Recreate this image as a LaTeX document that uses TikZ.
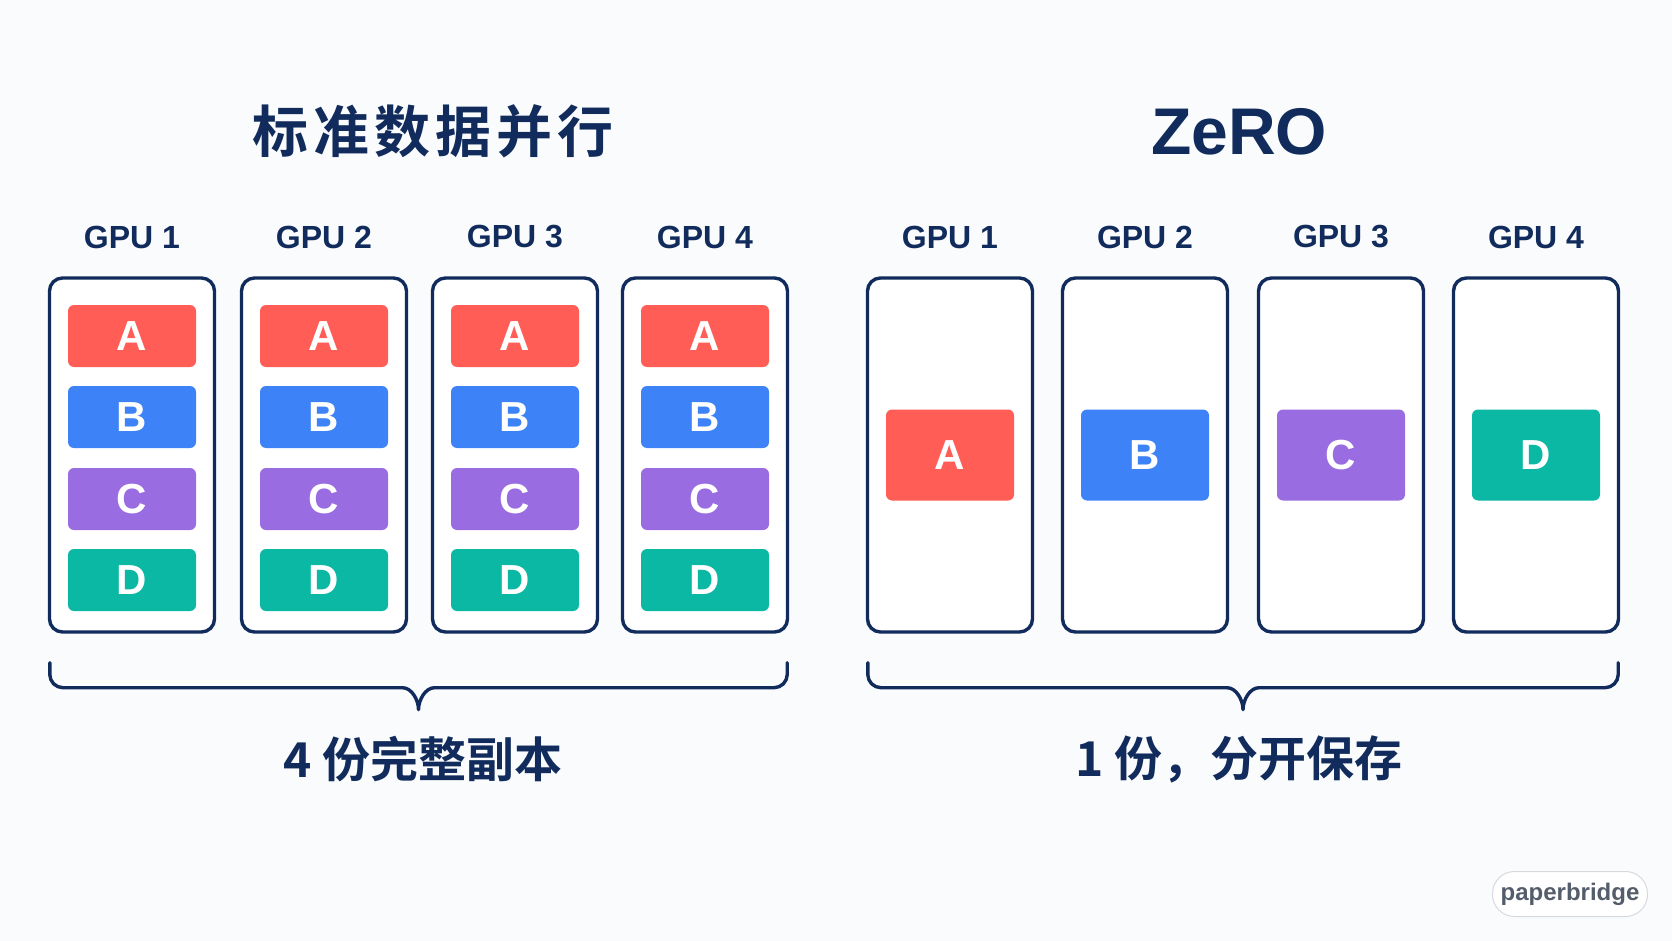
\documentclass[tikz,border=0pt]{standalone}
\usepackage{fontspec}
\setmainfont{Liberation Sans}
\newfontfamily\cjkfont{Noto Sans CJK SC}[BoldFont={* Bold}]
\usetikzlibrary{positioning,calc}
\definecolor{navy}{HTML}{112C5C}
\definecolor{blkred}{HTML}{FF5D55}
\definecolor{blkblue}{HTML}{3D82F6}
\definecolor{blkpurple}{HTML}{9A6CE2}
\definecolor{blkteal}{HTML}{0BB8A3}
\definecolor{pagebg}{HTML}{FAFBFC}
\definecolor{markgray}{HTML}{545D6B}

\begin{document}
\begin{tikzpicture}[x=1pt,y=-1pt,
    gpubox/.style={draw=navy, line width=3.4pt, rounded corners=13pt, fill=white,
      minimum width=165pt, minimum height=354pt},
    blk/.style={rounded corners=6pt, minimum width=128pt, minimum height=62pt,
      text=white, font=\bfseries\fontsize{42}{44}\selectfont},
    blkz/.style={blk, minimum height=91pt},
    gpulabel/.style={text=navy, font=\bfseries\fontsize{32}{36}\selectfont},
    brace/.style={draw=navy, line width=3.4pt, line cap=round, line join=round}]
    \fill[pagebg] (0,0) rectangle (1672,941);
    \useasboundingbox (0,0) rectangle (1672,941);

    % titles
    \node[text=navy, font=\cjkfont\bfseries\fontsize{56}{60}\selectfont\addfontfeature{LetterSpace=9}] (tstd) at (433,131) {标准数据并行};
    \node[text=navy, font=\bfseries\fontsize{66}{70}\selectfont] (tzero) at (1239,132) {ZeRO};

    % standard data parallel
    \node[gpulabel] (l1) at (132,237) {GPU 1};
    \node[gpulabel] (l2) at (324,237) {GPU 2};
    \node[gpulabel] (l3) at (515,237) {GPU 3};
    \node[gpulabel] (l4) at (705,237) {GPU 4};
    \node[gpubox] (s1) at (132,455) {};
    \node[gpubox] (s2) at (324,455) {};
    \node[gpubox] (s3) at (515,455) {};
    \node[gpubox] (s4) at (705,455) {};
    \node[blk, fill=blkred]    (a1) at (132,336) {A};
    \node[blk, fill=blkblue]   (b1) at (132,417) {B};
    \node[blk, fill=blkpurple] (c1) at (132,499) {C};
    \node[blk, fill=blkteal]   (d1) at (132,580) {D};
    \node[blk, fill=blkred]    (a2) at (324,336) {A};
    \node[blk, fill=blkblue]   (b2) at (324,417) {B};
    \node[blk, fill=blkpurple] (c2) at (324,499) {C};
    \node[blk, fill=blkteal]   (d2) at (324,580) {D};
    \node[blk, fill=blkred]    (a3) at (515,336) {A};
    \node[blk, fill=blkblue]   (b3) at (515,417) {B};
    \node[blk, fill=blkpurple] (c3) at (515,499) {C};
    \node[blk, fill=blkteal]   (d3) at (515,580) {D};
    \node[blk, fill=blkred]    (a4) at (705,336) {A};
    \node[blk, fill=blkblue]   (b4) at (705,417) {B};
    \node[blk, fill=blkpurple] (c4) at (705,499) {C};
    \node[blk, fill=blkteal]   (d4) at (705,580) {D};

    % ZeRO
    \node[gpulabel] (m1) at (950,237) {GPU 1};
    \node[gpulabel] (m2) at (1145,237) {GPU 2};
    \node[gpulabel] (m3) at (1341,237) {GPU 3};
    \node[gpulabel] (m4) at (1536,237) {GPU 4};
    \node[gpubox] (z1) at (950,455) {};
    \node[gpubox] (z2) at (1145,455) {};
    \node[gpubox] (z3) at (1341,455) {};
    \node[gpubox] (z4) at (1536,455) {};
    \node[blkz, fill=blkred]    (za) at (950,455) {A};
    \node[blkz, fill=blkblue]   (zb) at (1145,455) {B};
    \node[blkz, fill=blkpurple] (zc) at (1341,455) {C};
    \node[blkz, fill=blkteal]   (zd) at (1536,455) {D};

    % braces
    \coordinate (bl1) at ($(s1.south west)+(2,29)$);
    \coordinate (br1) at ($(s4.south east)+(-2,29)$);
    \coordinate (tip1) at ($(bl1)!0.5!(br1)+(0,47)$);
    \draw[brace] (bl1) -- ++(0,12) .. controls +(0,7) and +(-7,0) .. ++(13,13)
      -- ($(tip1)+(-16,-22)$) .. controls +(9,0) and +(0,-10) .. (tip1)
      .. controls +(0,-10) and +(-9,0) .. ($(tip1)+(16,-22)$)
      -- ($(br1)+(-13,25)$) .. controls +(7,0) and +(0,7) .. ($(br1)+(0,12)$) -- (br1);
    \coordinate (bl2) at ($(z1.south west)+(2,29)$);
    \coordinate (br2) at ($(z4.south east)+(-2,29)$);
    \coordinate (tip2) at ($(bl2)!0.5!(br2)+(0,47)$);
    \draw[brace] (bl2) -- ++(0,12) .. controls +(0,7) and +(-7,0) .. ++(13,13)
      -- ($(tip2)+(-16,-22)$) .. controls +(9,0) and +(0,-10) .. (tip2)
      .. controls +(0,-10) and +(-9,0) .. ($(tip2)+(16,-22)$)
      -- ($(br2)+(-13,25)$) .. controls +(7,0) and +(0,7) .. ($(br2)+(0,12)$) -- (br2);

    \node[text=navy, font=\cjkfont\bfseries\fontsize{48}{52}\selectfont] (nstd) at (423,759) {4 份完整副本};
    \node[text=navy, font=\cjkfont\bfseries\fontsize{48}{52}\selectfont] (nzero) at (1239,759) {1 份，分开保存};

    % mark
    \node[draw={rgb,255:red,214;green,217;blue,222}, line width=1pt, fill=white,
      rounded corners=22pt, minimum width=155pt, minimum height=45pt,
      text=markgray, font=\bfseries\fontsize{24}{26}\selectfont] (mark) at (1570,894) {paperbridge};
  \end{tikzpicture}
\end{document}
